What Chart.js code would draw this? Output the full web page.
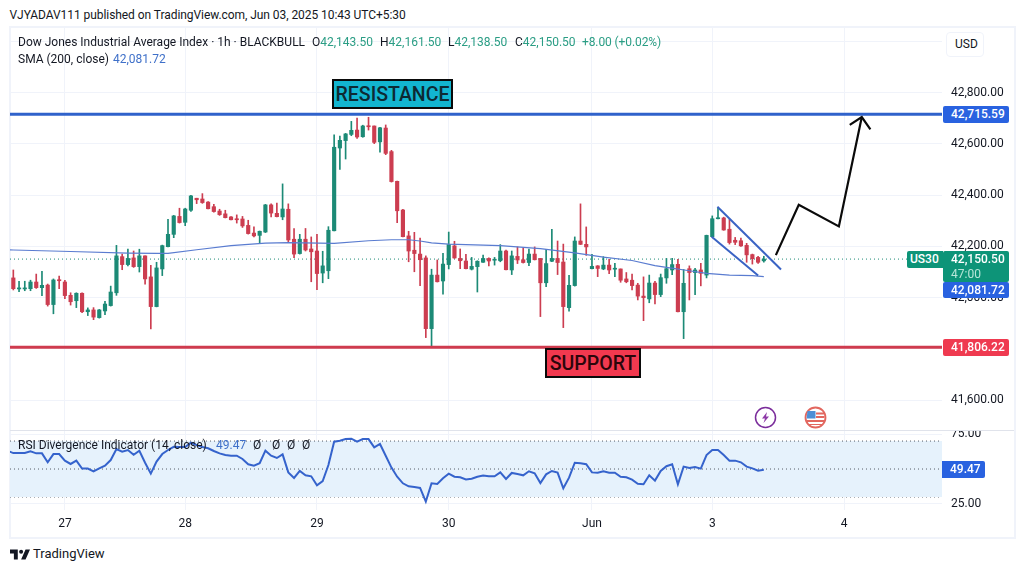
<!DOCTYPE html>
<html>
<head>
<meta charset="utf-8">
<title>US30</title>
<script src="https://cdn.jsdelivr.net/npm/chart.js@4"></script>
<style>
html, body { margin: 0; padding: 0; background: #fff; }
body { width: 1024px; height: 572px; position: relative; overflow: hidden; font-family: Roboto, sans-serif; font-size: 12px; color: #131722; }
canvas { position: absolute; left: 10px; }
#priceChart { top: 27px; }
#rsiChart { top: 430px; }
.abs { position: absolute; white-space: nowrap; line-height: 16px; }
.frame { position: absolute; left: 9px; top: 26px; width: 1003px; height: 509px; border: 2px solid #f0f3fa; }
.sep { position: absolute; left: 10px; top: 430px; width: 1004px; height: 1px; background: #e0e3eb; }
.up { color: #2a9d84; }
.blue { color: #3f70c9; }
.tag { position: absolute; box-sizing: border-box; left: 943px; width: 66px; padding-left: 8px; color: #fff; border-radius: 2px; line-height: 16px; font-weight: 500; }
.box { position: absolute; box-sizing: border-box; border: 2.5px solid #0a0a0a; font-size: 19.5px; font-weight: 500; text-align: center; }
.usd { position: absolute; left: 946px; top: 32px; width: 38px; height: 25px; box-sizing: border-box; line-height: 23px; padding-left: 8px; background: #fff; border: 1px solid #f0f3fa; border-radius: 4px; }
svg { position: absolute; }
</style>
</head>
<body>
<div class="frame"></div>
<canvas id="priceChart" width="1004" height="403"></canvas>
<canvas id="rsiChart" width="1004" height="107"></canvas>
<div class="sep"></div>

<div class="abs" style="left:9.5px;top:7px;letter-spacing:-0.06px">VJYADAV111 published on TradingView.com, Jun 03, 2025 10:43 UTC+5:30</div>
<div class="abs" style="left:18px;top:34px">Dow Jones Industrial Average Index · 1h · BLACKBULL</div>
<div class="abs" style="left:312px;top:34px">O<span class="up">42,143.50</span></div>
<div class="abs" style="left:380px;top:34px">H<span class="up">42,161.50</span></div>
<div class="abs" style="left:448px;top:34px">L<span class="up">42,138.50</span></div>
<div class="abs" style="left:515px;top:34px">C<span class="up">42,150.50</span></div>
<div class="abs up" style="left:582px;top:34px;letter-spacing:-0.1px">+8.00 (+0.02%)</div>
<div class="abs" style="left:18px;top:51px">SMA (200, close)</div>
<div class="abs blue" style="left:113px;top:51px">42,081.72</div>
<div class="usd">USD</div>

<div class="box" style="left:332px;top:79px;width:121px;height:30px;line-height:27px;background:#12b5d0;color:#0d2a33">RESISTANCE</div>
<div class="box" style="left:545px;top:348px;width:96px;height:30px;line-height:27px;background:#f2394f;color:#2b060b">SUPPORT</div>

<div class="tag" style="left:907px;width:36px;padding-left:3px;top:251px;height:17px;background:#0d9478;border-radius:2px 0 0 2px">US30</div>
<div class="tag" style="top:106px;height:16.5px;background:#2962e0">42,715.59</div>
<div class="tag" style="top:251px;height:31px;padding-top:1px;line-height:14.5px;background:#0d9478">42,150.50<br><span style="color:#b7e6d8;font-weight:400">47:00</span></div>
<div class="tag" style="top:282px;height:16px;background:#2962e0">42,081.72</div>
<div class="tag" style="top:339px;height:17px;background:#ef3a50">41,806.22</div>
<div class="tag" style="left:942px;width:43px;top:461px;height:17px;background:#2962e0;border-radius:0 2px 2px 0">49.47</div>

<div class="abs" style="left:18px;top:437px">RSI Divergence Indicator (14, close)</div>
<div class="abs blue" style="left:216px;top:437px">49.47</div>
<div class="abs" style="left:253px;top:437px">Ø</div>
<div class="abs" style="left:272px;top:437px">Ø</div>
<div class="abs" style="left:287px;top:437px">Ø</div>
<div class="abs" style="left:302px;top:437px">Ø</div>

<svg style="left:754px;top:406px" width="23" height="23" viewBox="0 0 23 23">
  <circle cx="11.5" cy="11.5" r="10" fill="#fff" stroke="#7b2d9b" stroke-width="1.5"/>
  <path d="M13 6 L8 12.5 H11 L9.5 17 L15 10.5 H12 Z" fill="#8e3aa8"/>
</svg>
<svg style="left:804px;top:406px" width="23" height="23" viewBox="0 0 23 23">
  <circle cx="11.5" cy="11.5" r="10" fill="#fff" stroke="#e2675f" stroke-width="1.8"/>
  <path d="M3 14 H20 V16 H3 Z M5 18 H18 V19 H5 Z M12 6.5 H20 V8.5 H12 Z M12 10 H20.5 V12 H12 Z" fill="#e2675f"/>
  <path d="M3.5 5 H11.5 V12.5 H2.5 Z" fill="#4d8fd6"/>
</svg>
<svg style="left:10px;top:548px" width="20" height="13" viewBox="0 0 36 22">
  <path d="M14 2 H0 V9 H7 V20 H14 Z M28 20 H20 L28 2 H36 Z" fill="#131722"/>
  <circle cx="20" cy="6" r="3.6" fill="#131722"/>
</svg>
<div class="abs" style="left:33px;top:546px;font-size:13px">TradingView</div>

<script>
'use strict';

var barIndex = [];

var opens = [42077,42034,42034,42035,42061,42039,42049,41973,42069,42061,42009,41988,42017,41945,41952,41922,41948,41969,42019,42160,
    42129,42155,42121,42163,42081,41965,42112,42199,42247,42317,42294,42341,42388,42385,42373,42355,42338,42327,42315,42307,
    42307,42282,42252,42243,42256,42362,42329,42315,42345,42228,42172,42228,42190,42182,42096,42105,42261,42584,42613,42637,
    42654,42628,42670,42670,42608,42662,42570,42454,42342,42241,42185,42170,42155,41879,42088,42065,42129,42202,42153,42143,
    42111,42121,42138,42153,42146,42144,42182,42108,42161,42148,42137,42170,42153,42058,42142,42153,42139,41961,42047,42221,
    42208,42113,42124,42112,42127,42111,42112,42073,42068,42049,42006,41995,42057,42012,42077,42108,42130,41945,42113,42098,
    42108,42088,42238,42308,42311,42267,42224,42222,42204,42168,42157,42143.5];
var highs = [42108,42064,42064,42068,42092,42103,42053,42073,42084,42068,42019,42019,42019,41960,41961,41954,41986,42045,42204,42170,
    42190,42182,42189,42163,42126,42138,42205,42306,42321,42349,42349,42399,42388,42406,42375,42364,42345,42341,42316,42323,
    42317,42302,42276,42260,42364,42366,42369,42444,42366,42270,42247,42270,42237,42247,42181,42277,42635,42631,42641,42688,
    42701,42673,42704,42670,42665,42674,42575,42455,42345,42259,42255,42232,42163,42111,42147,42173,42256,42220,42190,42169,
    42157,42144,42166,42155,42157,42207,42186,42182,42198,42194,42190,42198,42153,42189,42267,42221,42209,42087,42237,42366,
    42276,42169,42125,42160,42150,42134,42112,42098,42092,42056,42081,42088,42064,42092,42153,42153,42150,42110,42124,42114,
    42134,42244,42319,42349,42314,42306,42235,42232,42212,42170,42161,42161.5];
var lows = [42030,42023,42027,42027,42036,42008,41967,41937,42035,41996,41971,41961,41941,41930,41914,41920,41934,41967,42009,42109,
    42124,42118,42100,42053,41878,41964,42086,42198,42234,42291,42281,42337,42367,42368,42346,42334,42321,42311,42303,42291,
    42274,42248,42237,42211,42254,42315,42315,42304,42216,42156,42170,42182,42062,42031,42058,42074,42260,42500,42541,42632,
    42621,42626,42654,42601,42568,42558,42451,42293,42237,42140,42101,42047,41844,41811,42061,42014,42112,42153,42113,42112,
    42108,42022,42137,42124,42127,42140,42108,42090,42133,42135,42125,42147,41926,42043,42140,42090,41883,41947,42045,42207,
    42165,42112,42082,42109,42094,42082,42060,42058,42030,41991,41910,41980,41975,42004,42056,42090,41944,41840,41991,42012,
    42046,42077,42237,42307,42263,42209,42207,42200,42138,42131,42134,42138.5];
var closes = [42035,42038,42038,42061,42039,42048,41973,42069,42066,42008,41984,42017,41945,41952,41924,41952,41975,42022,42163,42129,
    42153,42121,42163,42073,41965,42116,42203,42247,42319,42293,42346,42397,42382,42371,42347,42336,42324,42312,42304,42304,
    42280,42250,42241,42259,42362,42330,42316,42346,42225,42170,42228,42186,42179,42094,42124,42263,42587,42614,42639,42653,
    42627,42670,42667,42606,42663,42563,42453,42339,42238,42182,42172,42148,41879,42088,42062,42131,42207,42155,42144,42113,
    42122,42142,42153,42143,42150,42182,42109,42163,42147,42137,42170,42148,42058,42133,42153,42137,41965,42048,42221,42208,
    42198,42122,42114,42127,42108,42113,42068,42062,42047,42006,42000,42057,42012,42078,42113,42129,41945,42056,42098,42108,
    42095,42243,42308,42311,42264,42215,42216,42202,42167,42152,42138,42150.5];

var smaIndex = [-1,0,10,20,25,27,32,38,44,48,56,62,66,69,71,73,76,85,92,98,103,108,112,114,118,121,125,129,131];
var smaValues = [42187,42186,42180,42174,42173,42173,42187,42203,42213,42215,42212,42222,42226,42226,42221,42214,42209,42203,42191,42175,42158,42145,42125,42118,42105,42095,42088,42086,42081.72];

var rsiValues = [61.4,61.4,61.4,62.6,61.2,61.2,54.8,60.7,60.7,56.0,53.6,56.0,50.3,50.3,48.3,50.5,52.4,56.4,64.3,62.4,
    63.6,60.2,63.1,54.5,46.7,55.3,60.7,63.6,65.9,65.7,65.7,68.8,67.1,65.7,64.8,62.9,61.2,60.0,59.5,59.5,
    57.2,53.4,52.4,54.1,63.1,59.5,57.9,60.5,47.6,43.6,48.6,45.5,44.8,38.4,41.4,52.9,69.5,70.2,71.4,71.7,
    69.5,71.4,71.4,65.5,67.9,59.5,51.0,44.5,39.8,37.6,37.2,36.5,26.7,39.8,39.3,43.4,46.7,44.5,44.1,42.6,
    43.1,44.5,45.3,44.8,44.8,47.6,42.9,47.2,46.5,45.5,48.4,46.9,40.0,46.2,48.6,47.4,36.2,43.8,54.5,54.1,
    53.4,47.6,47.4,48.4,47.4,47.4,44.5,44.1,42.4,39.5,39.1,45.5,41.7,48.6,52.0,53.4,39.1,51.7,50.7,51.5,
    50.3,60.0,63.6,63.6,60.0,56.0,56.0,54.8,51.7,50.5,48.8,49.47];
var rsiBeforeFirst = 63.0;

var dayTicks = [9,30,53,76,101,122,145];
var dayLabels = ['27','28','29','30','Jun','3','4'];
var priceTicks = [41600,41800,42000,42200,42400,42600,42800,43000];
var hiddenPriceTick = 43000;
var rsiTicks = [25,75];

var resistanceLevel = 42715.59;
var supportLevel = 41806.22;
var lastClose = 42150.5;
var rsiBands = [70,50,30];

// trader's drawings, in bar index / price
var channelTopIndex = [122.9,134];
var channelTopPrice = [42355,42110];
var channelLowIndex = [121.9,130];
var channelLowPrice = [42238,42086];
var arrowIndex = [133.1,137.1,144.1,148.1];
var arrowPrice = [42166,42362,42278,42705];
var arrowHeadIndex = [146,148.1,149.6];
var arrowHeadPrice = [42674,42705,42657];

var xMin = -0.58;
var xMax = 162.1;
var upColor = '#1c8a76';
var downColor = '#cc3d50';
var gridColor = '#f0f3fa';

for (var n = 0; n < closes.length; n++) {
    barIndex.push(n);
}

drawPrice();
drawRsi();


function zip(xs, ys) {
    return xs.map(function (x, i) { return { x: x, y: ys[i] }; });
}

function level(v) {
    return [{ x: xMin, y: v }, { x: xMax, y: v }];
}

function lineSet(data, color, width, dash) {
    return {
        type: 'line',
        data: data,
        borderColor: color,
        borderWidth: width,
        borderDash: dash || [],
        pointRadius: 0,
        tension: 0,
        fill: false
    };
}

function barColors() {
    return barIndex.map(function (i) {
        return closes[i] >= opens[i] ? upColor : downColor;
    });
}

function fitY(scale) {
    scale.width = 72;
    scale.paddingTop = 0;
    scale.paddingBottom = 0;
}

function xScale(showLabels) {
    return {
        type: 'linear',
        min: xMin,
        max: xMax,
        offset: false,
        grid: { color: gridColor, offset: false, drawTicks: false },
        border: { display: false },
        afterBuildTicks: function (scale) {
            scale.ticks = dayTicks.map(function (v) { return { value: v }; });
        },
        afterFit: function (scale) {
            scale.height = showLabels ? 27 : 0;
            scale.paddingLeft = 0;
            scale.paddingRight = 0;
        },
        ticks: {
            display: showLabels,
            autoSkip: false,
            maxRotation: 0,
            padding: 7,
            color: '#131722',
            font: { family: 'Roboto', size: 12 },
            callback: function (value) {
                return dayLabels[dayTicks.indexOf(value)];
            }
        }
    };
}

function drawPrice() {
    var ctx = document.getElementById('priceChart').getContext('2d');
    var colors = barColors();
    var myChart = new Chart(ctx, {
        type: 'bar',
        data: {
            datasets: [
                lineSet(zip(arrowIndex, arrowPrice), '#0a0a0a', 2.2),
                lineSet(zip(arrowHeadIndex, arrowHeadPrice), '#0a0a0a', 2.2),
                lineSet(zip(channelTopIndex, channelTopPrice), '#3a63c4', 2),
                lineSet(zip(channelLowIndex, channelLowPrice), '#3a63c4', 2),
                lineSet(level(resistanceLevel), '#2f62cb', 3),
                lineSet(level(supportLevel), '#cf3b4e', 3),
                lineSet(zip(smaIndex, smaValues), '#5a7cd0', 1.2),
                {
                    data: barIndex.map(function (i) { return { x: i, y: [opens[i], closes[i]] }; }),
                    backgroundColor: colors,
                    barThickness: 3.5,
                    minBarLength: 1,
                    grouped: false
                },
                {
                    data: barIndex.map(function (i) { return { x: i, y: [lows[i], highs[i]] }; }),
                    backgroundColor: colors,
                    barThickness: 1,
                    grouped: false
                },
                lineSet(level(lastClose), upColor, 1, [1, 3])
            ]
        },
        options: {
            responsive: false,
            animation: false,
            layout: { padding: 0 },
            plugins: { legend: { display: false }, tooltip: { enabled: false } },
            scales: {
                x: xScale(false),
                y: {
                    position: 'right',
                    min: 41483.4,
                    max: 43056.3,
                    grid: { color: gridColor, drawTicks: false },
                    border: { display: false },
                    afterBuildTicks: function (scale) {
                        scale.ticks = priceTicks.map(function (v) { return { value: v }; });
                    },
                    afterFit: fitY,
                    ticks: {
                        padding: 9,
                        color: '#131722',
                        font: { family: 'Roboto', size: 12 },
                        callback: function (value) {
                            if (value === hiddenPriceTick) {
                                return '';
                            }
                            return value.toLocaleString('en-US', { minimumFractionDigits: 2 });
                        }
                    }
                }
            }
        }
    });
}

function drawRsi() {
    var ctx = document.getElementById('rsiChart').getContext('2d');
    var rsiLine = [{ x: -1, y: rsiBeforeFirst }].concat(zip(barIndex, rsiValues));
    var myChart = new Chart(ctx, {
        type: 'line',
        data: {
            datasets: [
                lineSet(rsiLine, '#3563cc', 2),
                lineSet(level(rsiBands[1]), '#555b66', 1, [1, 3]),
                Object.assign(lineSet(level(rsiBands[0]), '#555b66', 1, [1, 3]), {
                    fill: { value: rsiBands[2] },
                    backgroundColor: '#e6f2fc'
                }),
                lineSet(level(rsiBands[2]), '#555b66', 1, [1, 3])
            ]
        },
        options: {
            responsive: false,
            animation: false,
            layout: { padding: 0 },
            plugins: { legend: { display: false }, tooltip: { enabled: false } },
            scales: {
                x: xScale(true),
                y: {
                    position: 'right',
                    min: 20.7,
                    max: 77.9,
                    grid: { color: gridColor, drawTicks: false },
                    border: { display: false },
                    afterBuildTicks: function (scale) {
                        scale.ticks = rsiTicks.map(function (v) { return { value: v }; });
                    },
                    afterFit: fitY,
                    ticks: {
                        padding: 9,
                        color: '#131722',
                        font: { family: 'Roboto', size: 12 },
                        callback: function (value) {
                            return value.toFixed(2);
                        }
                    }
                }
            }
        }
    });
}
</script>
</body>
</html>
